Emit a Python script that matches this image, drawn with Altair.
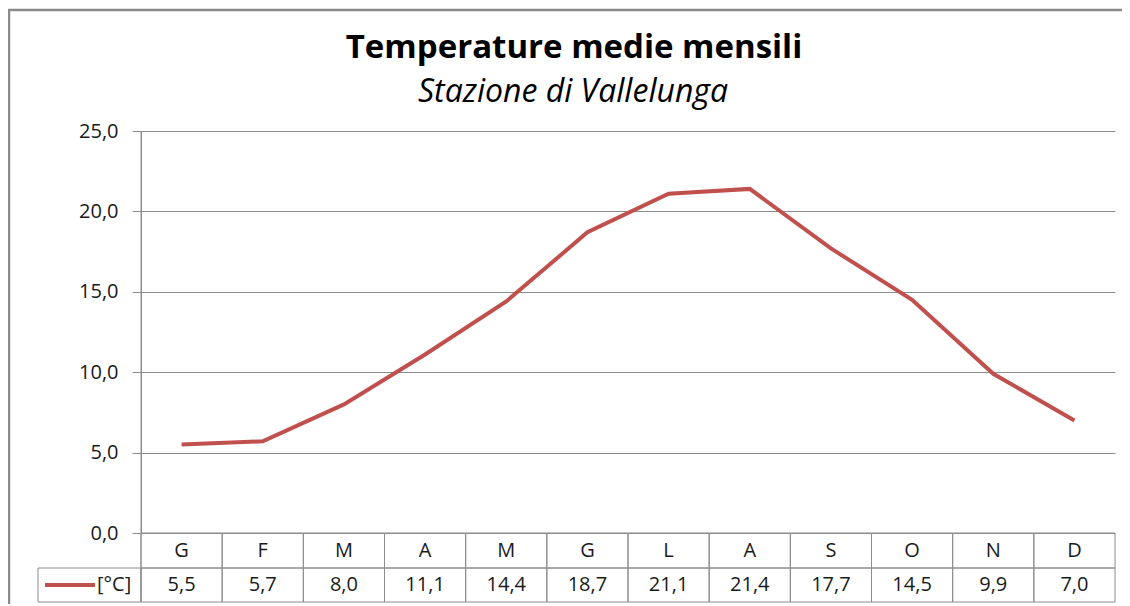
import altair as alt
import pandas as pd

months = ["Gen", "Feb", "Mar", "Apr", "Mag", "Giu", "Lug", "Ago", "Set", "Ott", "Nov", "Dic"]
letters = ["G", "F", "M", "A", "M", "G", "L", "A", "S", "O", "N", "D"]
temps = [5.5, 5.7, 8.0, 11.1, 14.4, 18.7, 21.1, 21.4, 17.7, 14.5, 9.9, 7.0]
y_ticks = [0, 5, 10, 15, 20, 25]

title_text = "Temperature medie mensili"
subtitle_text = "Stazione di Vallelunga"
series_name = "[°C]"

FONT = "Open Sans"
RED = "#C0504D"
GRID = "#8c8c8c"
TXT = "#1a1a1a"
FS = 20

df = pd.DataFrame({"month": months, "letter": letters, "temp": temps})

W, H = 974, 402

xscale = alt.Scale(domain=months, paddingInner=0, paddingOuter=0)

base = alt.Chart()
deco = alt.Chart().transform_filter("datum.month == 'Gen'")

line = base.mark_line(color=RED, strokeWidth=4).encode(
    x=alt.X("month:N", scale=xscale, axis=None),
    y=alt.Y("temp:Q", scale=alt.Scale(domain=[0, 25], nice=False),
            axis=alt.Axis(values=y_ticks,
                          labelExpr="replace(format(datum.value, '.1f'), '.', ',')",
                          grid=True, gridColor=GRID, gridWidth=1,
                          tickColor=GRID, tickSize=9, domain=True, domainColor=GRID,
                          title=None, labelFontSize=FS, labelFont=FONT,
                          labelColor=TXT, labelPadding=14)),
)

cells1 = base.mark_rect(fill="white", fillOpacity=0, stroke=GRID, strokeWidth=1).encode(
    x=alt.X("month:N", scale=xscale, axis=None), y=alt.value(H), y2=alt.value(H + 35))
cells2 = base.mark_rect(fill="white", fillOpacity=0, stroke=GRID, strokeWidth=1).encode(
    x=alt.X("month:N", scale=xscale, axis=None), y=alt.value(H + 35), y2=alt.value(H + 69))

month_lbl = base.mark_text(font=FONT, fontSize=FS, color=TXT, baseline="middle").encode(
    x=alt.X("month:N", scale=xscale, axis=None), y=alt.value(H + 18), text="letter:N")

val_lbl = base.transform_calculate(
    lbl="replace(format(datum.temp, '.1f'), '.', ',')"
).mark_text(font=FONT, fontSize=FS, color=TXT, baseline="middle").encode(
    x=alt.X("month:N", scale=xscale, axis=None), y=alt.value(H + 52), text="lbl:N")

leg_cell = deco.mark_rect(fill="white", fillOpacity=0, stroke=GRID, strokeWidth=1).encode(
    x=alt.value(-103), x2=alt.value(0), y=alt.value(H + 35), y2=alt.value(H + 69))
vaxis = deco.mark_rule(color=GRID, strokeWidth=1).encode(
    x=alt.value(0), y=alt.value(0), y2=alt.value(H + 69))
leg_line = deco.mark_rule(color=RED, strokeWidth=4).encode(
    x=alt.value(-96), x2=alt.value(-46), y=alt.value(H + 52))
leg_txt = deco.mark_text(font=FONT, fontSize=FS, color=TXT, align="left", baseline="middle").encode(
    x=alt.value(-44), y=alt.value(H + 52), text=alt.value(series_name))

frame_top = deco.mark_rule(color="#8a8a8a", strokeWidth=2.5).encode(
    x=alt.value(-133), x2=alt.value(1000), y=alt.value(-121))
frame_left = deco.mark_rule(color="#8a8a8a", strokeWidth=2.5).encode(
    x=alt.value(-132), y=alt.value(-121), y2=alt.value(500))

t1 = deco.mark_text(font=FONT, fontSize=33, fontWeight="bold", color="#000", align="center",
                    baseline="alphabetic").encode(
    x=alt.value(433), y=alt.value(-73), text=alt.value(title_text))
t2 = deco.mark_text(font=FONT, fontSize=32, fontStyle="italic", color="#000", align="center",
                    baseline="alphabetic").encode(
    x=alt.value(432), y=alt.value(-29), text=alt.value(subtitle_text))

chart = alt.layer(
    frame_top, frame_left, t1, t2,
    cells1, cells2, leg_cell, vaxis,
    month_lbl, val_lbl, leg_line, leg_txt, line,
    data=df,
).properties(
    width=W, height=H,
    padding={"left": 133, "top": 123, "right": 7, "bottom": 71},
    autosize="none",
    background="white",
).configure_view(stroke=None)

chart.save("out.html", embed_options={"renderer": "svg", "actions": False})
